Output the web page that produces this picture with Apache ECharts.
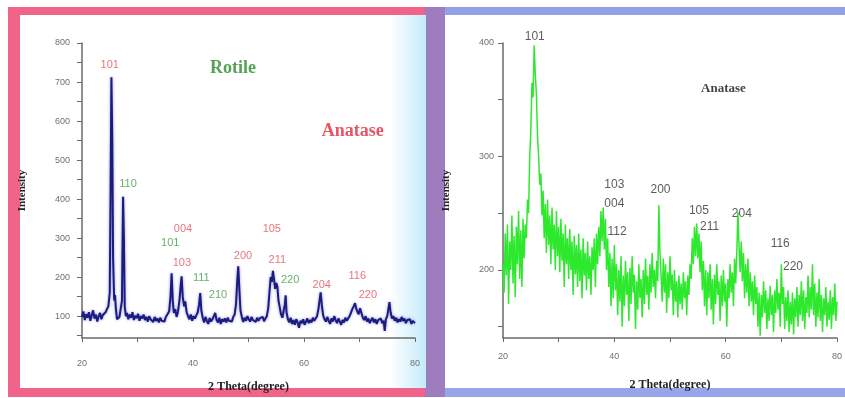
<!DOCTYPE html>
<html>
<head>
<meta charset="utf-8">
<script src="https://cdn.jsdelivr.net/npm/echarts@6/dist/echarts.min.js"></script>
<style>
  html, body { margin: 0; padding: 0; background: #fff; }
  #main { width: 845px; height: 398px; }
</style>
</head>
<body>
<div id="main"></div>
<script>
var thetaTicks = [20, 30, 40, 50, 60, 70, 80];
var thetaLabels = [20, 40, 60, 80];
var leftIntensityTicks = [50, 100, 150, 200, 250, 300, 350, 400, 450, 500, 550, 600, 650, 700, 750, 800];
var leftIntensityLabels = [100, 200, 300, 400, 500, 600, 700, 800];
var rightIntensityTicks = [150, 200, 250, 300, 350, 400];
var rightIntensityLabels = [200, 300, 400];

// mixed anatase + rutile sample
var leftPattern = [
    [20.0, 98], [20.25, 112], [20.5, 90], [20.75, 105], [21.0, 96], [21.25, 110], [21.5, 88], [21.75, 102],
    [22.0, 115], [22.25, 94], [22.5, 104], [22.75, 86], [23.0, 100], [23.25, 108], [23.5, 92], [23.75, 103],
    [24.0, 98], [24.25, 110], [24.5, 118], [24.75, 125], [25.0, 160], [25.15, 420], [25.3, 712], [25.45, 560],
    [25.6, 250], [25.8, 140], [25.95, 154], [26.1, 120], [26.3, 92], [26.5, 88], [26.75, 98], [27.0, 100],
    [27.2, 140], [27.4, 406], [27.55, 300], [27.7, 125], [27.9, 100], [28.1, 108], [28.35, 92], [28.6, 104],
    [28.85, 96], [29.1, 110], [29.35, 90], [29.6, 101], [29.85, 95], [30.1, 106], [30.35, 88], [30.6, 100],
    [30.85, 94], [31.1, 104], [31.35, 90], [31.6, 98], [31.85, 86], [32.1, 100], [32.35, 92], [32.6, 96],
    [32.85, 85], [33.1, 98], [33.35, 88], [33.6, 94], [33.85, 84], [34.1, 96], [34.35, 88], [34.6, 92],
    [34.85, 86], [35.1, 98], [35.4, 95], [35.7, 112], [35.95, 150], [36.15, 210], [36.35, 140], [36.55, 108],
    [36.8, 118], [37.05, 98], [37.3, 112], [37.55, 140], [37.8, 180], [37.95, 202], [38.15, 150], [38.4, 125],
    [38.6, 138], [38.85, 110], [39.1, 100], [39.35, 92], [39.6, 104], [39.85, 88], [40.1, 100], [40.35, 94],
    [40.6, 102], [40.85, 110], [41.1, 130], [41.3, 159], [41.5, 115], [41.75, 96], [42.0, 84], [42.25, 98],
    [42.5, 88], [42.75, 80], [43.0, 95], [43.25, 86], [43.5, 92], [43.75, 100], [44.0, 108], [44.25, 90],
    [44.5, 84], [44.75, 96], [45.0, 80], [45.25, 92], [45.5, 86], [45.75, 94], [46.0, 84], [46.25, 96],
    [46.5, 88], [46.75, 92], [47.0, 86], [47.25, 98], [47.5, 104], [47.75, 130], [47.95, 185], [48.15, 228],
    [48.35, 170], [48.55, 115], [48.8, 98], [49.05, 85], [49.3, 96], [49.55, 88], [49.8, 100], [50.05, 92],
    [50.3, 86], [50.55, 98], [50.8, 90], [51.05, 94], [51.3, 85], [51.55, 96], [51.8, 88], [52.05, 95],
    [52.3, 90], [52.55, 98], [52.8, 87], [53.05, 94], [53.3, 100], [53.55, 120], [53.8, 165], [54.0, 200],
    [54.2, 188], [54.4, 216], [54.6, 195], [54.8, 170], [55.0, 185], [55.2, 176], [55.4, 140], [55.6, 125],
    [55.85, 105], [56.1, 96], [56.35, 100], [56.55, 130], [56.7, 153], [56.85, 110], [57.1, 92], [57.35, 84],
    [57.6, 96], [57.85, 80], [58.1, 90], [58.35, 78], [58.6, 92], [58.85, 84], [59.1, 70], [59.35, 88],
    [59.6, 82], [59.85, 92], [60.1, 78], [60.35, 86], [60.6, 94], [60.85, 82], [61.1, 90], [61.35, 84],
    [61.6, 96], [61.85, 88], [62.1, 92], [62.35, 100], [62.6, 118], [62.8, 140], [63.0, 161], [63.2, 130],
    [63.45, 102], [63.7, 92], [63.95, 86], [64.2, 98], [64.45, 88], [64.7, 80], [64.95, 94], [65.2, 86],
    [65.45, 100], [65.7, 90], [65.95, 82], [66.2, 94], [66.45, 86], [66.7, 78], [66.95, 90], [67.2, 84],
    [67.45, 96], [67.7, 88], [67.95, 92], [68.2, 100], [68.45, 108], [68.7, 118], [68.95, 125], [69.2, 133],
    [69.4, 120], [69.6, 112], [69.85, 105], [70.1, 120], [70.35, 108], [70.6, 96], [70.85, 90], [71.1, 100],
    [71.35, 86], [71.6, 94], [71.85, 82], [72.1, 90], [72.35, 96], [72.6, 84], [72.85, 92], [73.1, 80],
    [73.35, 90], [73.6, 86], [73.85, 94], [74.1, 82], [74.35, 88], [74.55, 62], [74.75, 92], [75.0, 100],
    [75.2, 118], [75.4, 136], [75.6, 110], [75.85, 94], [76.1, 100], [76.35, 88], [76.6, 96], [76.85, 84],
    [77.1, 92], [77.35, 86], [77.6, 98], [77.85, 88], [78.1, 94], [78.35, 82], [78.6, 90], [78.85, 86],
    [79.1, 92], [79.35, 80], [79.6, 88], [79.85, 84], [80.0, 82]
];

// pure anatase sample
var rightPattern = [
    [20.0, 205], [20.2, 180], [20.4, 232], [20.6, 195], [20.8, 240], [21.0, 170], [21.2, 225], [21.4, 200],
    [21.6, 248], [21.8, 188], [22.0, 230], [22.2, 176], [22.4, 238], [22.6, 205], [22.8, 252], [23.0, 192],
    [23.2, 235], [23.4, 185], [23.6, 245], [23.8, 210], [24.0, 240], [24.2, 228], [24.4, 262], [24.6, 250],
    [24.8, 300], [25.0, 322], [25.2, 365], [25.4, 352], [25.6, 398], [25.8, 372], [26.0, 355], [26.2, 318],
    [26.4, 300], [26.6, 275], [26.8, 285], [27.0, 248], [27.2, 270], [27.4, 228], [27.6, 258], [27.8, 215],
    [28.0, 262], [28.2, 222], [28.4, 248], [28.6, 205], [28.8, 255], [29.0, 218], [29.2, 240], [29.4, 200],
    [29.6, 252], [29.8, 212], [30.0, 238], [30.2, 198], [30.4, 245], [30.6, 208], [30.8, 232], [31.0, 185],
    [31.2, 240], [31.4, 205], [31.6, 228], [31.8, 192], [32.0, 236], [32.2, 200], [32.4, 225], [32.6, 178],
    [32.8, 230], [33.0, 196], [33.2, 222], [33.4, 185], [33.6, 232], [33.8, 190], [34.0, 218], [34.2, 175],
    [34.4, 228], [34.6, 195], [34.8, 215], [35.0, 182], [35.2, 225], [35.4, 192], [35.6, 212], [35.8, 178],
    [36.0, 220], [36.2, 200], [36.4, 228], [36.6, 185], [36.8, 232], [37.0, 205], [37.2, 238], [37.4, 212],
    [37.6, 252], [37.8, 225], [38.0, 255], [38.2, 218], [38.4, 245], [38.6, 200], [38.8, 228], [39.0, 185],
    [39.2, 215], [39.4, 168], [39.6, 210], [39.8, 175], [40.0, 222], [40.2, 182], [40.4, 205], [40.6, 160],
    [40.8, 200], [41.0, 172], [41.2, 212], [41.4, 150], [41.6, 195], [41.8, 168], [42.0, 208], [42.2, 178],
    [42.4, 198], [42.6, 155], [42.8, 202], [43.0, 170], [43.2, 212], [43.4, 180], [43.6, 196], [43.8, 148],
    [44.0, 190], [44.2, 165], [44.4, 205], [44.6, 175], [44.8, 192], [45.0, 158], [45.2, 200], [45.4, 170],
    [45.6, 210], [45.8, 178], [46.0, 195], [46.2, 165], [46.4, 205], [46.6, 180], [46.8, 215], [47.0, 185],
    [47.2, 200], [47.4, 175], [47.6, 208], [47.8, 190], [48.0, 257], [48.2, 215], [48.4, 195], [48.6, 172],
    [48.8, 210], [49.0, 180], [49.2, 205], [49.4, 162], [49.6, 198], [49.8, 175], [50.0, 212], [50.2, 182],
    [50.4, 196], [50.6, 160], [50.8, 200], [51.0, 172], [51.2, 190], [51.4, 158], [51.6, 195], [51.8, 170],
    [52.0, 188], [52.2, 165], [52.4, 198], [52.6, 175], [52.8, 190], [53.0, 160], [53.2, 195], [53.4, 178],
    [53.6, 205], [53.8, 192], [54.0, 228], [54.2, 205], [54.4, 238], [54.6, 212], [54.8, 241], [55.0, 210],
    [55.2, 232], [55.4, 198], [55.6, 225], [55.8, 182], [56.0, 208], [56.2, 168], [56.4, 200], [56.6, 160],
    [56.8, 198], [57.0, 175], [57.2, 205], [57.4, 165], [57.6, 192], [57.8, 152], [58.0, 196], [58.2, 170],
    [58.4, 205], [58.6, 178], [58.8, 190], [59.0, 155], [59.2, 195], [59.4, 168], [59.6, 200], [59.8, 172],
    [60.0, 188], [60.2, 150], [60.4, 192], [60.6, 175], [60.8, 205], [61.0, 180], [61.2, 198], [61.4, 168],
    [61.6, 210], [61.8, 188], [62.0, 215], [62.2, 251], [62.4, 222], [62.6, 198], [62.8, 225], [63.0, 190],
    [63.2, 215], [63.4, 175], [63.6, 205], [63.8, 180], [64.0, 210], [64.2, 168], [64.4, 198], [64.6, 172],
    [64.8, 190], [65.0, 160], [65.2, 195], [65.4, 170], [65.6, 185], [65.8, 150], [66.0, 180], [66.2, 142],
    [66.4, 178], [66.6, 158], [66.8, 190], [67.0, 162], [67.2, 182], [67.4, 148], [67.6, 175], [67.8, 155],
    [68.0, 186], [68.2, 160], [68.4, 178], [68.6, 145], [68.8, 182], [69.0, 162], [69.2, 192], [69.4, 165],
    [69.6, 180], [69.8, 150], [70.0, 205], [70.2, 170], [70.4, 185], [70.6, 148], [70.8, 176], [71.0, 155],
    [71.2, 182], [71.4, 145], [71.6, 172], [71.8, 152], [72.0, 180], [72.2, 143], [72.4, 175], [72.6, 158],
    [72.8, 185], [73.0, 150], [73.2, 178], [73.4, 160], [73.6, 190], [73.8, 155], [74.0, 182], [74.2, 148],
    [74.4, 176], [74.6, 162], [74.8, 195], [75.0, 158], [75.2, 185], [75.4, 165], [75.6, 205], [75.8, 160],
    [76.0, 188], [76.2, 150], [76.4, 180], [76.6, 158], [76.8, 192], [77.0, 155], [77.2, 178], [77.4, 145],
    [77.6, 175], [77.8, 160], [78.0, 185], [78.2, 150], [78.4, 172], [78.6, 156], [78.8, 182], [79.0, 148],
    [79.2, 176], [79.4, 160], [79.6, 188], [79.8, 155], [80.0, 172]
];

// peak labels (A = anatase, R = rutile), anchored in theta / intensity
var leftPeakNames = ['101', '110', '004', '101', '103', '111', '210', '200', '105', '211', '220', '204', '116', '220'];
var leftPeakPhase = ['A', 'R', 'A', 'R', 'A', 'R', 'R', 'A', 'A', 'A', 'R', 'A', 'A', 'A'];
var leftPeakTheta = [25.0, 28.3, 38.2, 35.9, 38.0, 41.5, 44.5, 49.0, 54.2, 55.2, 57.5, 63.2, 69.6, 71.5];
var leftPeakLevel = [744, 440, 324, 288, 237, 197, 153, 253, 324, 245, 192, 181, 204, 153];

var rightPeakNames = ['101', '103', '004', '112', '200', '105', '211', '204', '116', '220'];
var rightPeakTheta = [25.7, 40.0, 40.0, 40.5, 48.3, 55.2, 57.1, 62.9, 69.8, 72.1];
var rightPeakLevel = [406, 275, 258, 234, 271, 252, 238, 250, 223, 203];

var phaseTitles = ['Rotile', 'Anatase', 'Anatase'];
var phaseTheta = [47.2, 68.8, 59.6];
var phaseLevel = [736, 573, 360];

var chartDom = document.getElementById('main');
var myChart = echarts.init(chartDom, null, { renderer: 'canvas' });

var serif = "'Liberation Serif', 'DejaVu Serif', serif";
var sans = "'Liberation Sans', Arial, sans-serif";

function xAxisFor(gridIndex, labelMargin, nameGap) {
    return {
        type: 'value', gridIndex: gridIndex, min: 20, max: 80,
        name: '2 Theta(degree)', nameLocation: 'middle', nameGap: nameGap,
        nameTextStyle: { fontFamily: serif, fontWeight: 'bold', fontSize: 12, color: '#222' },
        axisLine: { lineStyle: { color: '#6a6a6a', width: 1.5 } },
        axisTick: { show: true, length: 4, customValues: thetaTicks, lineStyle: { color: '#6a6a6a' } },
        axisLabel: { customValues: thetaLabels, margin: labelMargin, fontSize: 9, color: '#707070', fontFamily: sans },
        splitLine: { show: false }
    };
}

function yAxisFor(gridIndex, min, max, ticks, labels, labelMargin, nameGap) {
    return {
        type: 'value', gridIndex: gridIndex, min: min, max: max,
        name: 'Intensity', nameLocation: 'middle', nameGap: nameGap,
        nameTextStyle: { fontFamily: serif, fontWeight: 'bold', fontSize: 11, color: '#222' },
        axisLine: { show: true, lineStyle: { color: '#6a6a6a', width: 1.5 } },
        axisTick: { show: true, length: 5, customValues: ticks, lineStyle: { color: '#6a6a6a' } },
        axisLabel: { customValues: labels, margin: labelMargin, fontSize: 9, color: '#707070', fontFamily: sans },
        splitLine: { show: false }
    };
}

var leftLabelData = leftPeakNames.map(function (n, i) {
    return {
        value: [leftPeakTheta[i], leftPeakLevel[i]],
        name: n,
        label: { color: leftPeakPhase[i] === 'A' ? '#e4505e' : '#3f9c3f' }
    };
});

var rightLabelData = rightPeakNames.map(function (n, i) {
    return { value: [rightPeakTheta[i], rightPeakLevel[i]], name: n };
});

var option = {
    backgroundColor: '#ffffff',
    animation: false,
    graphic: [
        { type: 'rect', z: -10, shape: { x: 8, y: 7, width: 420, height: 390 }, style: { fill: '#f0648a' } },
        {
            type: 'rect', z: -9, shape: { x: 20, y: 15, width: 406, height: 373 },
            style: {
                fill: new echarts.graphic.LinearGradient(0, 0, 1, 0, [
                    { offset: 0, color: '#ffffff' },
                    { offset: 0.91, color: '#ffffff' },
                    { offset: 1, color: '#c4ebf9' }
                ])
            }
        },
        { type: 'rect', z: -10, shape: { x: 425, y: 7, width: 20, height: 390 }, style: { fill: '#9d7dbe' } },
        { type: 'rect', z: -10, shape: { x: 445, y: 7, width: 400, height: 8 }, style: { fill: '#93a1e6' } },
        { type: 'rect', z: -10, shape: { x: 445, y: 388, width: 400, height: 9 }, style: { fill: '#97a6ea' } },
        { type: 'rect', z: -9, shape: { x: 445, y: 15, width: 400, height: 373 }, style: { fill: '#ffffff' } }
    ],
    grid: [
        { left: 82, top: 43, width: 333, height: 296 },
        { left: 503, top: 43, width: 336, height: 295 }
    ],
    xAxis: [xAxisFor(0, 21, 43), xAxisFor(1, 14, 41)],
    yAxis: [
        yAxisFor(0, 44, 800, leftIntensityTicks, leftIntensityLabels, 12, 54),
        yAxisFor(1, 140, 400, rightIntensityTicks, rightIntensityLabels, 9, 51)
    ],
    series: [
        {
            type: 'line', xAxisIndex: 0, yAxisIndex: 0, data: leftPattern,
            symbol: 'none', silent: true,
            lineStyle: { color: '#1b1b80', width: 2, shadowColor: 'rgba(70,70,190,0.6)', shadowBlur: 3 }
        },
        {
            type: 'line', xAxisIndex: 1, yAxisIndex: 1, data: rightPattern,
            symbol: 'none', silent: true,
            lineStyle: { color: '#2ee82e', width: 1.5 }
        },
        {
            type: 'scatter', xAxisIndex: 0, yAxisIndex: 0, data: leftLabelData,
            symbolSize: 1, itemStyle: { color: 'rgba(0,0,0,0)' }, clip: false, silent: true,
            label: { show: true, position: 'inside', formatter: '{b}', fontSize: 11, fontFamily: sans }
        },
        {
            type: 'scatter', xAxisIndex: 1, yAxisIndex: 1, data: rightLabelData,
            symbolSize: 1, itemStyle: { color: 'rgba(0,0,0,0)' }, clip: false, silent: true,
            label: { show: true, position: 'inside', formatter: '{b}', fontSize: 12, color: '#333', fontFamily: sans }
        },
        {
            type: 'scatter', xAxisIndex: 0, yAxisIndex: 0,
            data: [
                { value: [phaseTheta[0], phaseLevel[0]], name: phaseTitles[0], label: { color: '#2b8a2b' } },
                { value: [phaseTheta[1], phaseLevel[1]], name: phaseTitles[1], label: { color: '#e02a3c' } }
            ],
            symbolSize: 1, itemStyle: { color: 'rgba(0,0,0,0)' }, clip: false, silent: true,
            label: { show: true, position: 'inside', formatter: '{b}', fontSize: 18, fontWeight: 'bold', fontFamily: serif }
        },
        {
            type: 'scatter', xAxisIndex: 1, yAxisIndex: 1,
            data: [{ value: [phaseTheta[2], phaseLevel[2]], name: phaseTitles[2] }],
            symbolSize: 1, itemStyle: { color: 'rgba(0,0,0,0)' }, clip: false, silent: true,
            label: { show: true, position: 'inside', formatter: '{b}', fontSize: 13, fontWeight: 'bold', color: '#111', fontFamily: serif }
        }
    ]
};

option && myChart.setOption(option);
</script>
</body>
</html>
